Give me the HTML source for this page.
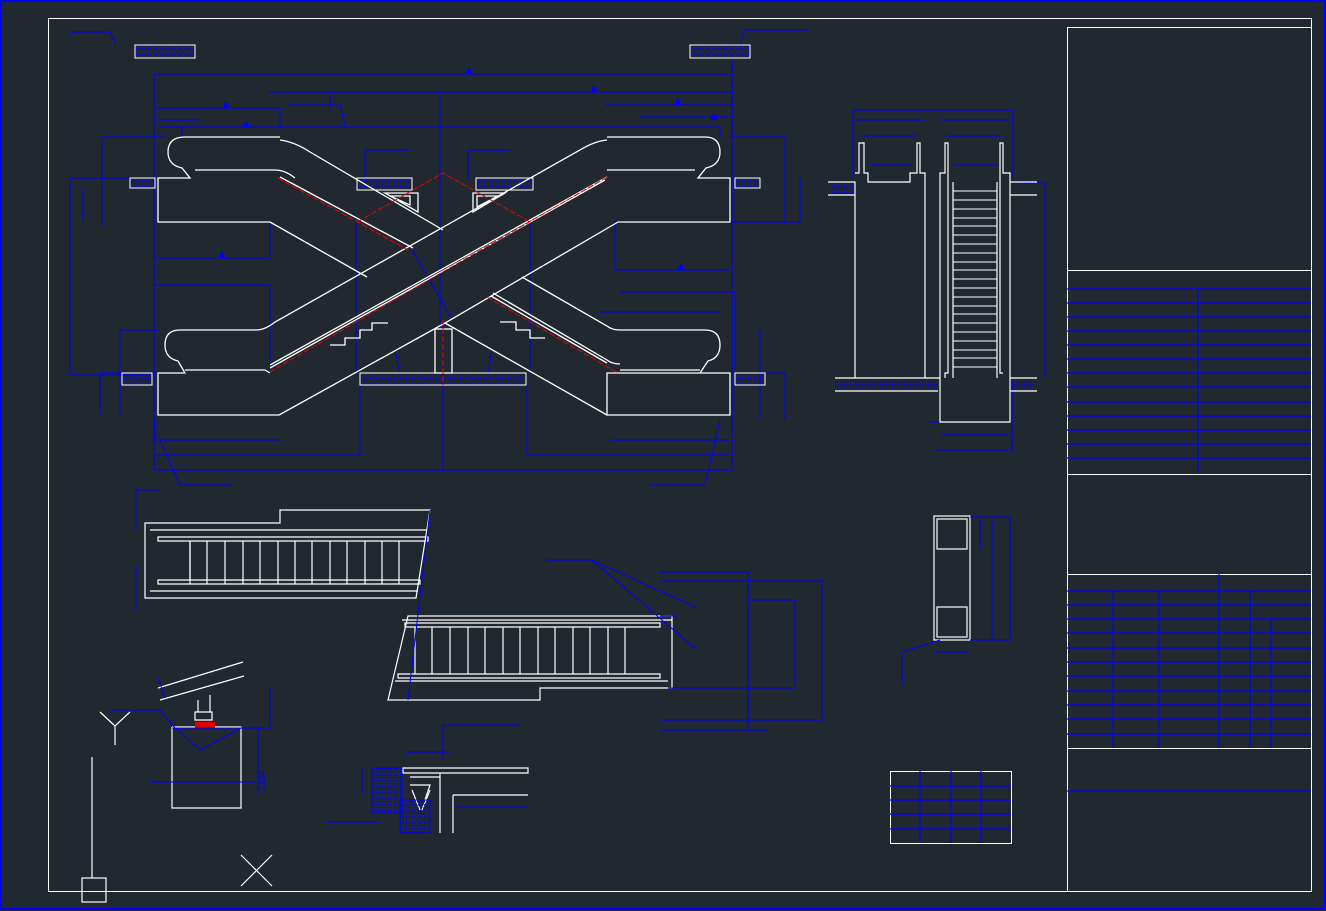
<!DOCTYPE html>
<html><head><meta charset="utf-8"><style>
html,body{margin:0;padding:0;background:#212830;}
svg{display:block}
</style></head><body>
<svg width="1326" height="911" viewBox="0 0 1326 911" xmlns="http://www.w3.org/2000/svg">
<rect width="1326" height="911" fill="#212830"/>
<defs>
<pattern id="h" width="6" height="6" patternUnits="userSpaceOnUse"><path d="M0 1h2M3 4h2M1 3l1 1M4 0l1 2" stroke="#00f" stroke-width="1"/></pattern>
</defs>
<!-- borders -->
<rect x="1" y="1" width="1324" height="908" fill="none" stroke="#0000ff" stroke-width="2"/>
<rect x="48.5" y="18.5" width="1263" height="873" fill="none" stroke="#fff" stroke-width="1"/>
<!-- title block -->
<g stroke="#fff" fill="none">
<rect x="1067.5" y="27.5" width="244" height="864"/>
<path d="M1067 270.5H1311M1067 474.5H1311M1067 574.5H1311M1067 748.5H1311"/>
</g>
<g stroke="#0000ff" stroke-width="1.2">
<path d="M1067 289H1311M1067 303H1311M1067 317H1311M1067 331H1311M1067 345H1311M1067 359H1311M1067 373H1311M1067 387H1311M1067 402H1311M1067 416H1311M1067 430H1311M1067 444H1311M1067 458H1311M1198 289V474"/>
<path d="M1067 591H1311M1067 605H1311M1067 619H1311M1067 633H1311M1067 648H1311M1067 662H1311M1067 676H1311M1067 691H1311M1067 705H1311M1067 719H1311M1067 734H1311"/>
<path d="M1113 591V748M1159 591V748M1219 574V748M1250 591V748M1271 619V748M1067 791H1311"/>
</g>
<!-- small table -->
<rect x="890.5" y="771.5" width="121" height="72" fill="none" stroke="#fff"/>
<path d="M890 786H1011M890 800H1011M890 814H1011M890 829H1011M920 771V843M951 771V843M981 771V843" stroke="#00f" stroke-width="1.2"/>

<!-- top dimension lines -->
<g stroke="#0000ff" stroke-width="1" fill="none">
<path d="M70 32H110L116 45M135 45H195M135 58H195"/>
<path d="M154 74H732M154 74V470M732 60V470M267 92H732M330 92V110M440 92V330"/>
<path d="M155 108H280M155 120H200M280 108V130"/>
<path d="M288 105H340L345 125M605 105H732M640 117H732"/>
<path d="M160 127H720M182 127V137M720 127V137"/>
<path d="M102 137H165M102 137V225M70 178H155M70 178V375M70 375H155M83 190V222"/>
<path d="M785 137V222M730 137H785M730 222H800M800 178V222"/>
<path d="M155 258H270M270 222V258M615 222V270M615 270H730"/>
<path d="M155 285H270M270 285V370M620 292H735M735 292V370M600 312H720"/>
<path d="M120 330H160M120 330V415M100 373H155M100 373V415M735 373H785M785 373V420M760 330V420"/>
<path d="M155 420V440H280M155 455H360V385M527 455H730M527 385V455M610 440H730M154 470H732M443 320V470"/>
<path d="M160 440L180 485M180 485H232M720 420L705 485M650 485H705"/>
<path d="M365 150H410M365 150V185M468 150H510M468 150V180M356 222V373M530 222V373"/>
<path d="M690 45H750M690 58H750M740 45L745 30H810"/>
<path d="M412 250L451 317M395 350L400 373M492 350L488 373"/>
</g>
<g fill="#00f">
<path d="M465 74l4-7 4 7zM590 92l4-7 4 7zM222 108l4-7 4 7zM674 105l4-7 4 7zM710 120l4-7 4 7zM218 258l4-7 4 7zM677 270l4-7 4 7zM242 127l4-6 4 6z"/>
</g>
<!-- hatched slabs -->
<g fill="url(#h)" stroke="#fff" stroke-width="1">
<rect x="135" y="45" width="60" height="13"/>
<rect x="690" y="45" width="60" height="13"/>
<rect x="357" y="178" width="55" height="12"/>
<rect x="476" y="178" width="57" height="12"/>
<rect x="360" y="373" width="166" height="12"/>
<rect x="122" y="373" width="30" height="12"/>
<rect x="735" y="373" width="30" height="12"/>
<rect x="130" y="178" width="25" height="10"/>
<rect x="735" y="178" width="25" height="10"/>
</g>
<!-- escalators -->
<g stroke="#fff" fill="none" stroke-width="1.3">
<!-- upper left landing -->
<path d="M280 137H185Q168 137 168 152Q168 165 182 168L190 178H158V222H270"/>
<path d="M195 170H275Q285 170 295 178"/>
<!-- escalator A (TL->BR, behind) -->
<path d="M280 140Q295 142 310 152L443 230"/>
<path d="M522 277L607 326Q612 330 620 330"/>
<path d="M280 177L413 248"/>
<path d="M493 293L607 360Q612 364 620 364M491 296L607 363"/>
<path d="M270 222L367 277M445 323L607 415"/>
<!-- lower right landing -->
<path d="M620 330H705Q720 330 720 345Q720 358 708 361L700 373H607V415H730V373H700M620 370H700"/>
<!-- upper right landing -->
<path d="M607 137H705Q720 137 720 152Q720 165 706 168L698 178H730V222H618"/>
<path d="M607 170H695"/>
<!-- escalator B (TR->BL) front -->
<path d="M607 140Q595 141 580 150L275 322Q265 330 256 330"/>
<path d="M607 177L270 365M605 180L270 368"/>
<path d="M618 222L445 323L279 415"/>
<path d="M256 330H180Q165 330 165 345Q165 358 178 361L185 373H158V415H279"/>
<path d="M185 370H265L270 373"/>
<rect x="435" y="329" width="17" height="44"/>
<path d="M330 345H345V338H360V330H372V323H388M545 338H530V330H516V322H500"/>
<path d="M385 193H418V212ZM473 193H505L473 212Z"/>
<path d="M390 196H410V205ZM477 196H498L477 207Z"/>
</g>
<g stroke="#e00" stroke-width="1" fill="none" stroke-dasharray="6 2">
<path d="M278 178L408 250M487 297L618 373M607 177L268 373M357 222L443 173L530 222M443 320V385"/>
</g>
<!-- right elevation -->
<g stroke="#00f" fill="none">
<path d="M853 110H1013M853 110V178M1013 110V178M855 120H925M940 120H1010M862 136H918M946 136H1002M868 165H912M953 165H997M1020 183H1045V378"/>
<path d="M930 422H1012M940 435H1012M936 450H1014M1012 380V450"/>
</g>
<g stroke="#fff" fill="none" stroke-width="1.2">
<path d="M828 182H855V378M828 195H855M925 378V173H920V143H917V173H910V182H868V173H864V143H859V173H855"/>
<path d="M940 378V173H945V143H948V373H945V378M1010 378V173H1003V143H1000V373H1003M953 182V378M997 182V378"/>
<path d="M1010 182H1037M1010 195H1037M940 378V422H1010V378M835 378H940M1010 378H1037M835 391H938M1010 391H1037"/>
</g>
<rect x="835" y="379" width="103" height="11" fill="url(#h)"/>
<rect x="1012" y="379" width="23" height="11" fill="url(#h)"/>
<rect x="830" y="183" width="23" height="11" fill="url(#h)"/>
<g stroke="#fff" stroke-width="1"><path d="M953 191H997M953 200H997M953 209H997M953 218H997M953 226H997M953 235H997M953 244H997M953 253H997M953 262H997M953 270H997M953 279H997M953 288H997M953 297H997M953 306H997M953 314H997M953 323H997M953 332H997M953 341H997M953 350H997M953 358H997M953 367H997"/></g>

<!-- plan view left -->
<g stroke="#fff" fill="none" stroke-width="1.2">
<path d="M145 523H280V510H430L416 598H145Z"/>
<path d="M150 530H428M150 591H418M158 537H428V541H158ZM158 580H420V584H158ZM190 541V580"/>
<path d="M190 541V584M207 541V584M225 541V584M243 541V584M260 541V584M278 541V584M295 541V584M312 541V584M330 541V584M347 541V584M365 541V584M382 541V584M399 541V584"/>
<path d="M672 616H408L388 700H540V688H672ZM672 620H402M668 681H395M660 623H405V627H660ZM660 674H398V678H660ZM415 627V674"/>
<path d="M432 627V674M450 627V674M468 627V674M485 627V674M503 627V674M520 627V674M538 627V674M555 627V674M573 627V674M590 627V674M608 627V674M625 627V674"/>
</g>
<g stroke="#00f" fill="none">
<path d="M136 488V530M136 490H160M136 565V612M430 510L408 700M545 560H592L697 608M592 560L697 650M660 572H748V730M660 581H822V720H660M660 730H768M748 600H795V685M668 688H795M660 616H678"/>
</g>
<!-- section right small -->
<g stroke="#fff" fill="none" stroke-width="1.2">
<rect x="934" y="516" width="36" height="124"/>
<rect x="937" y="519" width="30" height="30"/>
<rect x="937" y="607" width="30" height="30"/>
</g>
<path d="M970 517H1010V640H970M980 520V550M992 520V640M902 652L940 640M902 652V685M934 652H970" stroke="#00f" fill="none"/>
<!-- support detail -->
<g stroke="#fff" fill="none" stroke-width="1.2">
<path d="M158 688L243 662M160 700L244 676M198 700V712H210V695M195 712H212V720H195ZM172 727V808H241V727H172"/>
<path d="M100 712L115 726L130 712M115 726V745M92 757V878"/>
<rect x="82" y="878" width="24" height="24"/>
<path d="M241 855L272 886M272 855L241 886"/>
</g>
<rect x="195" y="722" width="20" height="6" fill="#d00"/>
<g stroke="#00f" fill="none">
<path d="M270 688V728H172M258 728V795M150 782H255M176 728L200 750L241 728M110 710H160L175 728M158 678L165 698"/>
</g>
<text x="265" y="790" fill="#00f" font-family="Liberation Sans, sans-serif" font-size="9" transform="rotate(-90 265 790)">1234</text>
<!-- edge detail -->
<g stroke="#fff" fill="none" stroke-width="1.2">
<path d="M403 768H528V773H403ZM410 777H440V795M440 773V833M453 795H528M453 795V833M410 785H430L425 800"/>
<path d="M412 790L420 810M430 790L422 810"/>
</g>
<rect x="372" y="768" width="30" height="45" fill="url(#h)" stroke="#00f"/>
<rect x="400" y="800" width="30" height="33" fill="url(#h)" stroke="#00f"/>
<path d="M443 725H520M443 725V760M405 752H450M325 822H380M362 768V795M455 807H528" stroke="#00f" fill="none"/>
</svg>
</body></html>
